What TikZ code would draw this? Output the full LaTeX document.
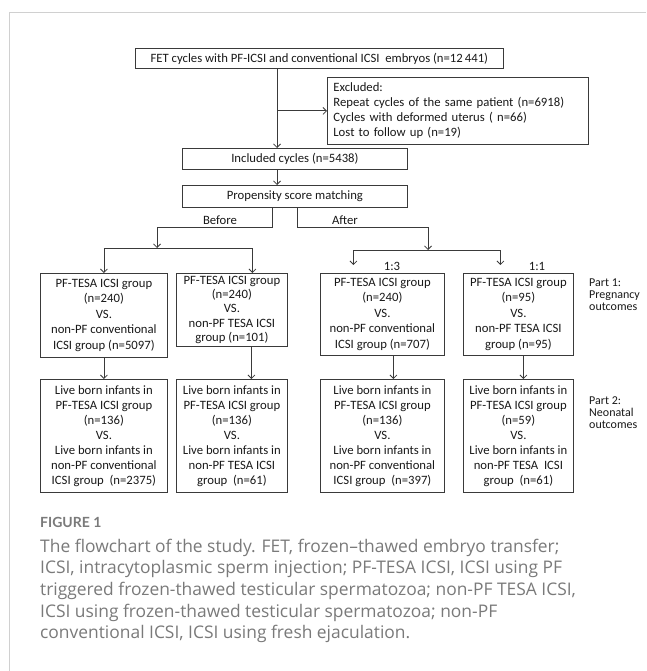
\documentclass[tikz,border=0pt]{standalone}
\usepackage{fontspec}
\setmainfont{Carlito}
\newfontfamily\capfont{Open Sans}
\newfontfamily\figfont{Lato}
\usetikzlibrary{arrows.meta}
\definecolor{framegray}{HTML}{D0D0D0}
\definecolor{capgray}{HTML}{7A7A7A}
\definecolor{boxline}{HTML}{3A3A3A}
\begin{document}
\begin{tikzpicture}[x=1pt,y=-1pt,
  box/.style={draw=boxline, line width=0.8pt, inner sep=0pt, align=center,
    font=\fontsize{12.7}{15.5}\selectfont, text=black!90, anchor=north west},
  boxb/.style={box, font=\fontsize{12.7}{15}\selectfont},
  arr/.style={draw=boxline, line width=0.8pt, -{Straight Barb[length=3.5pt,width=7pt]}},
  ln/.style={draw=boxline, line width=0.8pt},
  lab/.style={font=\fontsize{12.7}{15}\selectfont, inner sep=0pt, text=black!90},
  part/.style={font=\fontsize{12}{12}\selectfont, inner sep=0pt, align=left, anchor=west, text=black!90},
  capline/.style={font=\capfont\fontsize{17.4}{20}\selectfont, text=capgray, inner sep=0pt, anchor=base west},
]
\useasboundingbox (0,0) rectangle (646,671);
\fill[white] (0,0) rectangle (646,671);
\draw[framegray, line width=1pt] (9,671) -- (9,13) -- (646,13);

% top part
\node[box, minimum width=368pt, minimum height=20pt] (top) at (135,48)
  {FET cycles with PF-ICSI and conventional ICSI\ \ embryos (n=12\,441)};
\node[box, align=left, text width=249pt, inner xsep=6pt, minimum height=67pt,
  font=\fontsize{12.7}{15}\selectfont] (excl) at (327,77)
  {Excluded:\\Repeat cycles of the same patient (n=6918)\\Cycles with deformed uterus ( n=66)\\Lost to follow up (n=19)};
\node[box, minimum width=225pt, minimum height=21pt] (incl) at (182,148) {Included cycles (n=5438)};
\node[box, minimum width=225pt, minimum height=22pt] (psm) at (182,185) {Propensity score matching};

\coordinate (xa) at (277,0);
\draw[arr] (top.south -| xa) -- (incl.north -| xa);
\draw[arr] (xa |- excl.west) -- (excl.west);
\draw[arr] (incl.south -| xa) -- (psm.north -| xa);

% first row
\node[box, minimum width=127pt, minimum height=84pt] (B1) at (40,273)
  {PF-TESA ICSI group\\(n=240)\\VS.\\non-PF conventional\\ICSI group (n=5097)};
\node[box, minimum width=111pt, minimum height=73pt, font=\fontsize{12.7}{14.3}\selectfont] (B2) at (176,273)
  {PF-TESA ICSI group\\(n=240)\\VS.\\non-PF TESA ICSI\\group (n=101)};
\node[box, minimum width=124pt, minimum height=82pt] (B3) at (320,273)
  {PF-TESA ICSI group\\(n=240)\\VS.\\non-PF conventional\\ICSI group (n=707)};
\node[box, minimum width=110pt, minimum height=82pt] (B4) at (463,273)
  {PF-TESA ICSI group\\(n=95)\\VS.\\non-PF TESA ICSI\\group (n=95)};

% second row
\node[boxb, minimum width=127pt, minimum height=113pt] (C1) at (40,379)
  {Live born infants in\\PF-TESA ICSI group\\(n=136)\\VS.\\Live born infants in\\non-PF conventional\\ICSI group\ \ (n=2375)};
\node[boxb, minimum width=111pt, minimum height=113pt] (C2) at (176,379)
  {Live born infants in\\PF-TESA ICSI group\\(n=136)\\VS.\\Live born infants in\\non-PF TESA ICSI\\group\ \ (n=61)};
\node[boxb, minimum width=124pt, minimum height=113pt] (C3) at (320,379)
  {Live born infants in\\PF-TESA ICSI group\\(n=136)\\VS.\\Live born infants in\\non-PF conventional\\ICSI group\ \ (n=397)};
\node[boxb, minimum width=110pt, minimum height=113pt] (C4) at (463,379)
  {Live born infants in\\PF-TESA ICSI group\\(n=59)\\VS.\\Live born infants in\\non-PF TESA\ \ ICSI\\group\ \ (n=61)};

% branches
\coordinate (lbar) at (157,248);
\coordinate (rbar) at (428,250);
\draw[arr] ([xshift=-22.5pt]psm.south) -- ++(0,20) -| (lbar);
\draw[arr] ([xshift=2.5pt]psm.south) -- ++(0,20) -| (rbar);
\draw[ln] (B1.north |- lbar) -- ([xshift=20.5pt]B2.north |- lbar);
\draw[arr] (B1.north |- lbar) -- (B1.north);
\draw[arr] ([xshift=20.5pt]B2.north |- lbar) -- ([xshift=20.5pt]B2.north);
\draw[ln] ([xshift=-29pt]B3.north |- rbar) -- ([xshift=-18pt]B4.north |- rbar);
\draw[arr] ([xshift=-29pt]B3.north |- rbar) -- ([xshift=-29pt,yshift=8pt]B3.north);
\draw[arr] ([xshift=-18pt]B4.north |- rbar) -- ([xshift=-18pt,yshift=8pt]B4.north);

\draw[arr] (B1.south) -- (C1.north);
\draw[arr] ([xshift=19.5pt]B2.south) -- ([xshift=19.5pt]C2.north);
\draw[arr] ([xshift=11pt]B3.south) -- ([xshift=11pt]C3.north);
\draw[arr] ([xshift=5pt]B4.south) -- ([xshift=5pt]C4.north);

% labels
\node[lab] (before) at (220,220) {Before};
\node[lab] (after) at (345,220) {After};
\node[lab] (r13) at (392,266) {1:3};
\node[lab] (r11) at (537,266) {1:1};
\node[part] (p1) at (589,295) {Part 1:\\Pregnancy\\outcomes};
\node[part] (p2) at (589,413) {Part 2:\\Neonatal\\outcomes};

% caption
\node[font=\figfont\bfseries\fontsize{14}{14}\selectfont, text=capgray, inner sep=0pt, anchor=base west] (fig) at (40,527) {FIGURE 1};
\node[capline] (c1) at (40,552) {The flowchart of the study. FET, frozen–thawed embryo transfer;};
\node[capline] (c2) at (40,573.7) {ICSI, intracytoplasmic sperm injection; PF-TESA ICSI, ICSI using PF};
\node[capline] (c3) at (40,595.4) {triggered frozen-thawed testicular spermatozoa; non-PF TESA ICSI,};
\node[capline] (c4) at (40,617.1) {ICSI using frozen-thawed testicular spermatozoa; non-PF};
\node[capline] (c5) at (40,638.8) {conventional ICSI, ICSI using fresh ejaculation.};
\end{tikzpicture}
\end{document}
